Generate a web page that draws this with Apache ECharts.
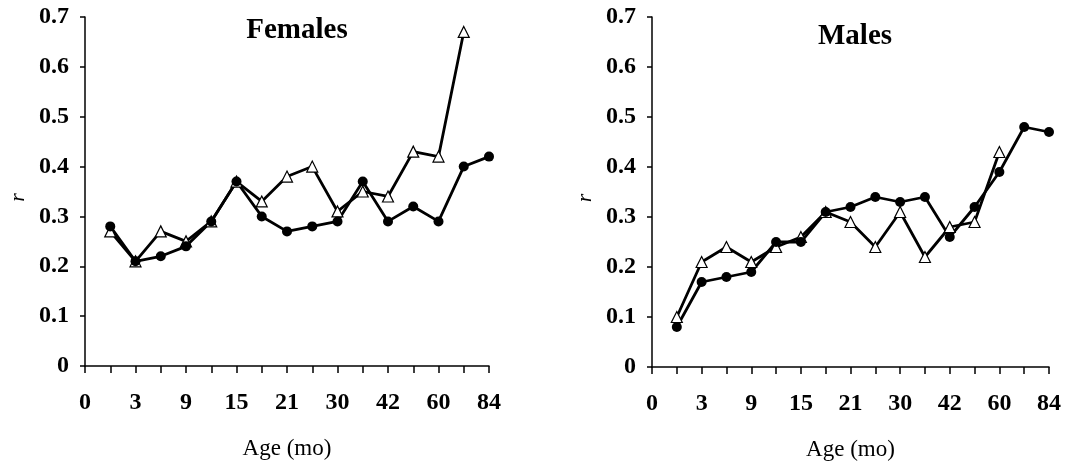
<!DOCTYPE html>
<html>
<head>
<meta charset="utf-8">
<script src="https://cdn.jsdelivr.net/npm/echarts@6/dist/echarts.min.js"></script>
<style>
html,body{margin:0;padding:0;background:#fff;}
#chart{width:1089px;height:466px;}
</style>
</head>
<body>
<div id="chart"></div>
<script>
// Categories (age in months); only every other one is labelled
const ages = ['0','1.5','3','6','9','12','15','18','21','24','30','36','42','48','60','72','84'];
// Females
const femalesCircle   = ['-',0.28,0.21,0.22,0.24,0.29,0.37,0.30,0.27,0.28,0.29,0.37,0.29,0.32,0.29,0.40,0.42];
const femalesTriangle = ['-',0.27,0.21,0.27,0.25,0.29,0.37,0.33,0.38,0.40,0.31,0.35,0.34,0.43,0.42,0.67,'-'];
// Males
const malesCircle     = ['-',0.08,0.17,0.18,0.19,0.25,0.25,0.31,0.32,0.34,0.33,0.34,0.26,0.32,0.39,0.48,0.47];
const malesTriangle   = ['-',0.10,0.21,0.24,0.21,0.24,0.26,0.31,0.29,0.24,0.31,0.22,0.28,0.29,0.43,'-','-'];
const panelTitles = ['Females','Males'];

const serif = '"Liberation Serif","DejaVu Serif",serif';
const chart = echarts.init(document.getElementById('chart'));

function xAxis(i){
  return {
    type:'category', gridIndex:i, data:ages, boundaryGap:false,
    axisLine:{lineStyle:{color:'#000',width:1.5}},
    axisTick:{interval:0,length:7,lineStyle:{color:'#000',width:1.5}},
    axisLabel:{interval:1,color:'#000',fontFamily:serif,fontWeight:'bold',fontSize:24,margin:25},
    name:'Age (mo)', nameLocation:'middle', nameGap:71,
    nameTextStyle:{color:'#000',fontFamily:serif,fontSize:23}
  };
}
function yAxis(i){
  return {
    type:'value', gridIndex:i, min:0, max:0.7, interval:0.1,
    splitLine:{show:false},
    axisLine:{show:true,lineStyle:{color:'#000',width:1.5}},
    axisTick:{show:true,length:5,lineStyle:{color:'#000',width:1.5}},
    axisLabel:{color:'#000',fontFamily:serif,fontWeight:'bold',fontSize:24,margin:16,
      formatter:v=>v===0?'0':v.toFixed(1)},
    name:'r', nameLocation:'middle', nameGap:56, nameRotate:90,
    nameTextStyle:{color:'#000',fontFamily:serif,fontStyle:'italic',fontSize:22,padding:[0,12,0,0]}
  };
}
function lineSeries(i,data,sym){
  return {
    type:'line', xAxisIndex:i, yAxisIndex:i, data:data,
    symbol:sym, symbolSize: sym==='circle'?10:11,
    showAllSymbol:true,
    lineStyle:{color:'#000',width:2.8},
    itemStyle:{color: sym==='circle'?'#000':'#fff', borderColor:'#000', borderWidth: sym==='circle'?0:1.2},
    animation:false, connectNulls:false
  };
}

chart.setOption({
  backgroundColor:'#fff',
  animation:false,
  title:[
    {text:panelTitles[0], left:292, top:11, textAlign:'center',
     textStyle:{fontFamily:serif,fontWeight:'bold',fontSize:29,color:'#000'}},
    {text:panelTitles[1], left:850, top:17, textAlign:'center',
     textStyle:{fontFamily:serif,fontWeight:'bold',fontSize:29,color:'#000'}}
  ],
  grid:[
    {left:85, width:404, top:17, height:349},
    {left:652, width:397, top:17, height:351}
  ],
  xAxis:[xAxis(0),xAxis(1)],
  yAxis:[yAxis(0),yAxis(1)],
  series:[
    lineSeries(0,femalesTriangle,'triangle'),
    lineSeries(0,femalesCircle,'circle'),
    lineSeries(1,malesTriangle,'triangle'),
    lineSeries(1,malesCircle,'circle')
  ]
});
</script>
</body>
</html>
